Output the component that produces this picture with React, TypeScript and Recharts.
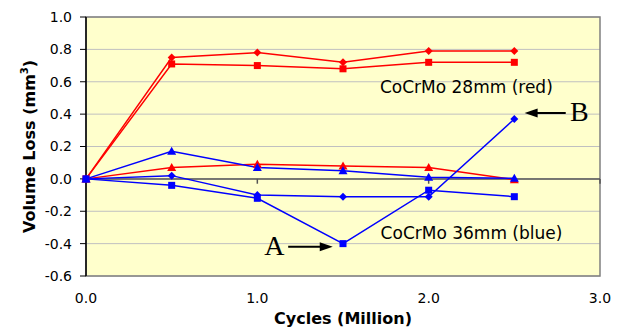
import { CartesianGrid, Label, Line, LineChart, ReferenceArea, ReferenceDot, ReferenceLine, XAxis, YAxis } from 'recharts'

const cycles = [0, 0.5, 1.0, 1.5, 2.0, 2.5]
const red28Diamond = [0, 0.75, 0.78, 0.72, 0.79, 0.79]
const red28Square = [0, 0.71, 0.70, 0.68, 0.72, 0.72]
const red28Triangle = [0, 0.07, 0.09, 0.08, 0.07, -0.005]
const blue36Triangle = [0, 0.17, 0.07, 0.05, 0.01, 0.004]
const blue36Diamond = [0, 0.02, -0.1, -0.11, -0.11, 0.37]
const blue36Square = [0, -0.04, -0.12, -0.4, -0.07, -0.11]

const xTicks = [0, 1, 2, 3]
const yTicks = [-0.6, -0.4, -0.2, 0, 0.2, 0.4, 0.6, 0.8, 1.0]

const data = cycles.map((c, i) => ({
  cycles: c,
  rD: red28Diamond[i],
  rS: red28Square[i],
  rT: red28Triangle[i],
  bT: blue36Triangle[i],
  bD: blue36Diamond[i],
  bS: blue36Square[i],
}))

const FONT = '"DejaVu Sans", sans-serif'
const RED = '#ff0000'
const BLUE = '#0000ff'

const diamond = (color: string) => (p: any) => (
  <polygon
    key={p.key}
    points={`${p.cx},${p.cy - 4} ${p.cx + 4},${p.cy} ${p.cx},${p.cy + 4} ${p.cx - 4},${p.cy}`}
    fill={color}
  />
)
const square = (color: string) => (p: any) => (
  <rect key={p.key} x={p.cx - 3.5} y={p.cy - 3.5} width={7} height={7} fill={color} />
)
const triangle = (color: string) => (p: any) => (
  <polygon
    key={p.key}
    points={`${p.cx},${p.cy - 4.5} ${p.cx + 4.5},${p.cy + 3.5} ${p.cx - 4.5},${p.cy + 3.5}`}
    fill={color}
  />
)

const arrow = (p: any) => {
  const { x1, y1, x2, y2 } = p
  const dir = Math.sign(x2 - x1)
  return (
    <g>
      <line x1={x1} y1={y1} x2={x2 - dir * 10} y2={y2} stroke="#000" strokeWidth={2} />
      <polygon points={`${x2},${y2} ${x2 - dir * 13},${y2 - 4.5} ${x2 - dir * 13},${y2 + 4.5}`} fill="#000" />
    </g>
  )
}

const note = (text: string, size: number, family: string) => (p: any) => (
  <text x={p.cx} y={p.cy} textAnchor="middle" fontSize={size} fontFamily={family} fill="#000">
    {text}
  </text>
)

export default function App() {
  return (
    <div style={{ position: 'absolute', left: 0, top: 0, background: '#fff' }}>
      <LineChart width={621} height={328} data={data} margin={{ top: 17, right: 21, left: 0, bottom: 0 }}>
        <CartesianGrid vertical={false} stroke="#c0c0c0" fill="#ffffcc" fillOpacity={1} />
        <ReferenceArea x1={0} x2={3} y1={-0.6} y2={1.0} fill="none" stroke="#808080" strokeWidth={1.5} />
        <XAxis
          type="number"
          dataKey="cycles"
          domain={[0, 3]}
          ticks={xTicks}
          tickFormatter={(v: number) => v.toFixed(1)}
          axisLine={false}
          tickLine={false}
          tickSize={0}
          tickMargin={17}
          height={52}
          tick={{ fontSize: 14, fill: '#000', fontFamily: FONT }}
        >
          <Label
            content={(p: any) => (
              <text
                x={p.viewBox.x + p.viewBox.width / 2}
                y={324}
                textAnchor="middle"
                fontSize={16}
                fontWeight="bold"
                fontFamily={FONT}
                fill="#000"
              >
                Cycles (Million)
              </text>
            )}
          />
        </XAxis>
        <YAxis
          type="number"
          domain={[-0.6, 1.0]}
          ticks={yTicks}
          tickFormatter={(v: number) => v.toFixed(1)}
          width={86}
          axisLine={{ stroke: '#000', strokeWidth: 1.5 }}
          tickLine={{ stroke: '#000' }}
          tickSize={6}
          tickMargin={8}
          tick={{ fontSize: 14, fill: '#000', fontFamily: FONT }}
        >
          <Label
            content={(p: any) => {
              const cy = p.viewBox.y + p.viewBox.height / 2
              return (
                <text
                  x={35}
                  y={cy}
                  transform={`rotate(-90 35 ${cy})`}
                  textAnchor="middle"
                  fontSize={16}
                  fontWeight="bold"
                  fontFamily={FONT}
                  fill="#000"
                >
                  Volume Loss (mm<tspan fontSize={10} dy={-7}>3</tspan>
                  <tspan dy={7}>)</tspan>
                </text>
              )
            }}
          />
        </YAxis>
        <ReferenceLine y={0} stroke="#555" strokeWidth={1.5} />
        {[1, 2, 3].map(t => (
          <ReferenceLine key={t} segment={[{ x: t, y: 0 }, { x: t, y: -0.03 }]} stroke="#555" strokeWidth={1.5} />
        ))}
        <Line dataKey="rD" stroke={RED} strokeWidth={1.5} dot={diamond(RED)} isAnimationActive={false} />
        <Line dataKey="rS" stroke={RED} strokeWidth={1.5} dot={square(RED)} isAnimationActive={false} />
        <Line dataKey="rT" stroke={RED} strokeWidth={1.5} dot={triangle(RED)} isAnimationActive={false} />
        <Line dataKey="bT" stroke={BLUE} strokeWidth={1.5} dot={triangle(BLUE)} isAnimationActive={false} />
        <Line dataKey="bD" stroke={BLUE} strokeWidth={1.5} dot={diamond(BLUE)} isAnimationActive={false} />
        <Line dataKey="bS" stroke={BLUE} strokeWidth={1.5} dot={square(BLUE)} isAnimationActive={false} />
        <ReferenceDot x={2.22} y={0.53} r={0} shape={note('CoCrMo 28mm (red)', 17, FONT)} />
        <ReferenceDot x={2.25} y={-0.37} r={0} shape={note('CoCrMo 36mm (blue)', 17, FONT)} />
        <ReferenceDot x={1.1} y={-0.47} r={0} shape={note('A', 28, '"Liberation Serif", serif')} />
        <ReferenceDot x={2.88} y={0.36} r={0} shape={note('B', 28, '"Liberation Serif", serif')} />
        <ReferenceLine segment={[{ x: 1.18, y: -0.42 }, { x: 1.44, y: -0.42 }]} shape={arrow} />
        <ReferenceLine segment={[{ x: 2.8, y: 0.407 }, { x: 2.56, y: 0.407 }]} shape={arrow} />
      </LineChart>
    </div>
  )
}
